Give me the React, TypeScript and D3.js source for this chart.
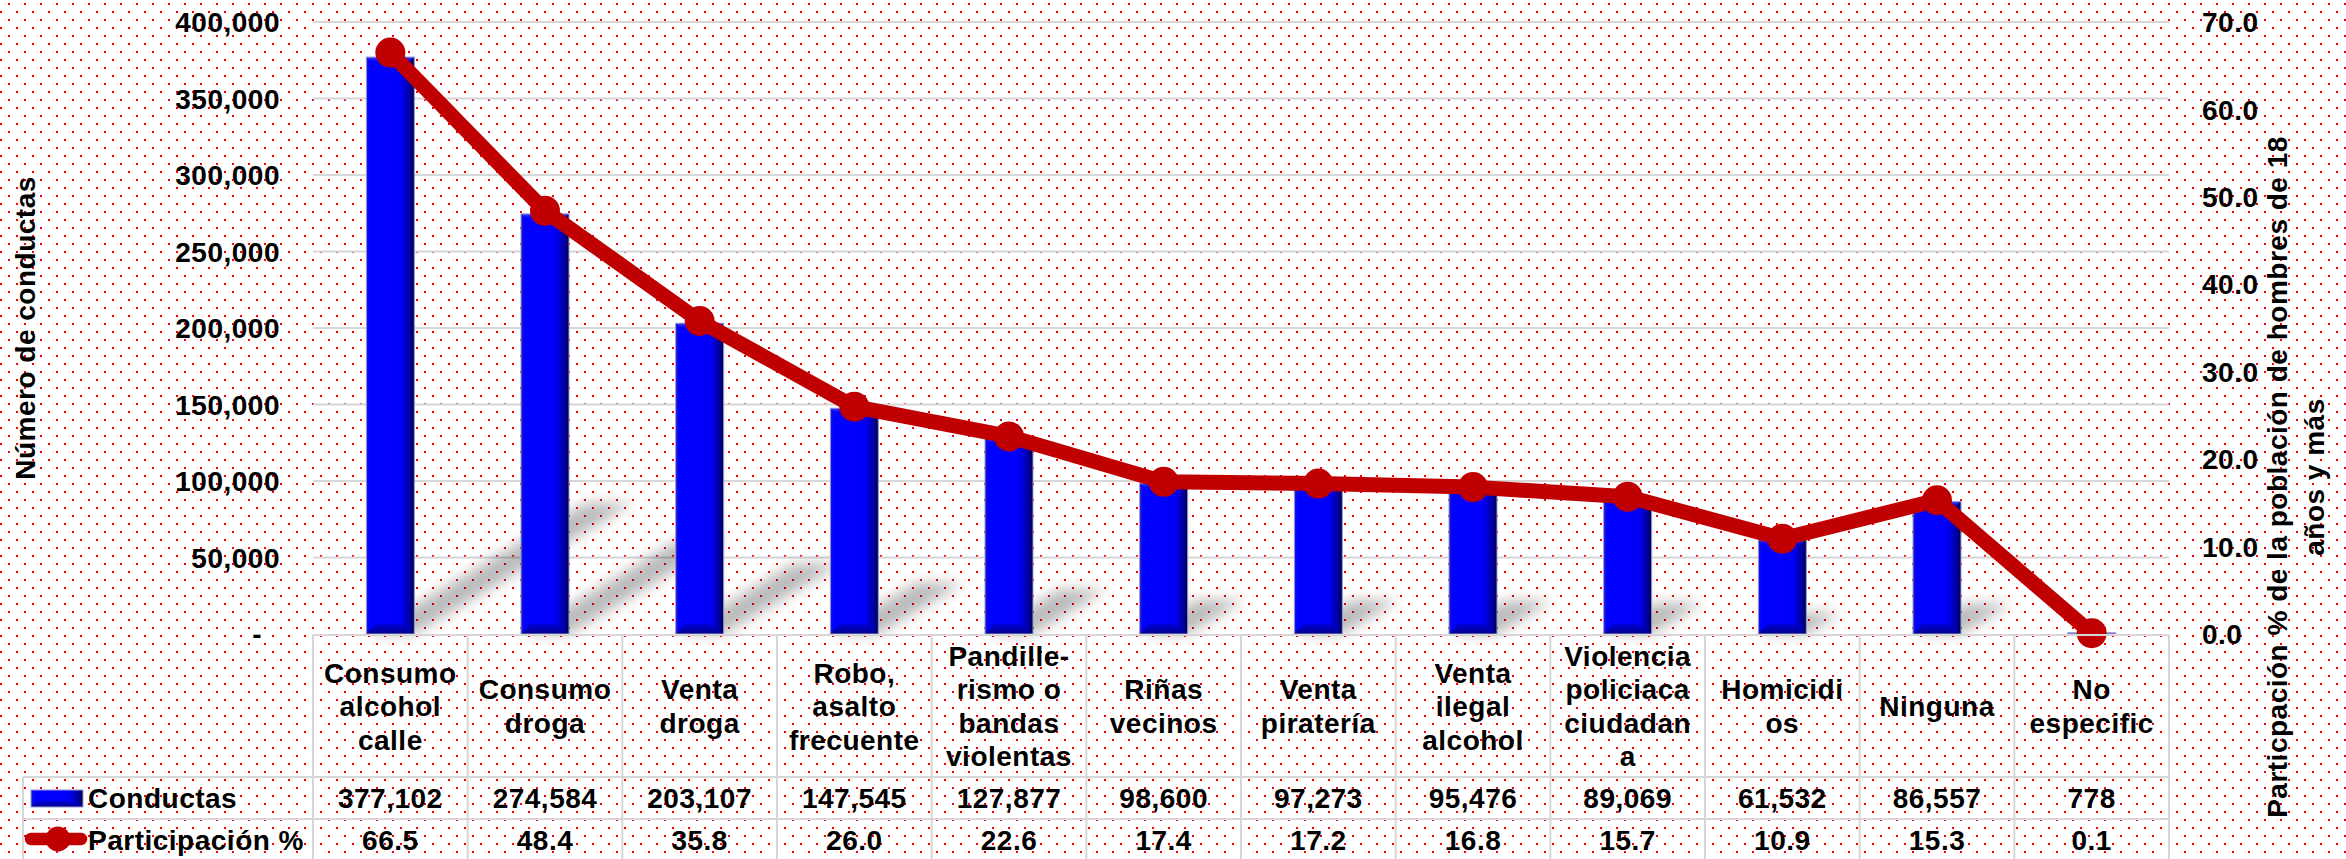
import React from "react";
import * as d3 from "d3";

// ---- data ----
const categories: string[] = [
  "Consumo\nalcohol\ncalle",
  "Consumo\ndroga",
  "Venta\ndroga",
  "Robo,\nasalto\nfrecuente",
  "Pandille-\nrismo o\nbandas\nviolentas",
  "Riñas\nvecinos",
  "Venta\npiratería",
  "Venta\nilegal\nalcohol",
  "Violencia\npoliciaca\nciudadan\na",
  "Homicidi\nos",
  "Ninguna",
  "No\nespecific",
];
const conductas: number[] = [377102, 274584, 203107, 147545, 127877, 98600, 97273, 95476, 89069, 61532, 86557, 778];
const participacion: number[] = [66.5, 48.4, 35.8, 26.0, 22.6, 17.4, 17.2, 16.8, 15.7, 10.9, 15.3, 0.1];
const leftTicks: number[] = [0, 50000, 100000, 150000, 200000, 250000, 300000, 350000, 400000];
const rightTicks: number[] = [0, 10, 20, 30, 40, 50, 60, 70];
const seriesNames: string[] = ["Conductas", "Participación %"];
const leftTitle = "Número de conductas";
const rightTitleLines: string[] = ["Particpación % de la población de hombres de 18", "años y más"];

const W = 2346;
const H = 859;
const FONT = "'Liberation Sans', Arial, Helvetica, sans-serif";

export default function App() {
  const plotLeft = 313;
  const plotRight = 2169;
  const plotTop = 22;
  const plotBottom = 634;
  const tableTop = 635;
  const headerBottom = 777;
  const row1Bottom = 819;
  const row2Bottom = 861;
  const legendLeft = 23;

  const x = d3.scaleBand<string>().domain(categories).range([plotLeft, plotRight]).padding(0);
  const yL = d3.scaleLinear().domain([0, 400000]).range([plotBottom, plotTop]);
  const yR = d3.scaleLinear().domain([0, 70]).range([plotBottom, plotTop]);
  const fmtL = d3.format(",");
  const fmtR = d3.format(".1f");
  const bw = 48;
  const cx = (c: string) => (x(c) as number) + x.bandwidth() / 2;

  const lineGen = d3
    .line<number>()
    .x((_, i) => cx(categories[i]))
    .y((d) => yR(d));

  const shadowK = 0.227;
  const shadowS = 0.38;
  const lh = 33.5;
  const headerCenter = (tableTop + headerBottom) / 2;
  const row1Center = (headerBottom + row1Bottom) / 2;
  const row2Center = (row1Bottom + row2Bottom) / 2;

  const textStyle = {
    fontFamily: FONT,
    fontWeight: 700,
    fontSize: 28,
    fill: "#000",
    letterSpacing: "0.5px",
  } as React.CSSProperties;
  const gridColor = "#d6d6d6";

  return (
    <svg
      width={W}
      height={H}
      viewBox={`0 0 ${W} ${H}`}
      style={{ position: "absolute", left: 0, top: 0, display: "block" }}
    >
      <defs>
        <pattern id="dots" width={16} height={16} patternUnits="userSpaceOnUse">
          <rect x={8} y={3} width={2} height={2} fill="#ff0000" />
          <rect x={0} y={11} width={2} height={2} fill="#ff0000" />
        </pattern>
        <filter id="shblur" x="-50%" y="-50%" width="200%" height="200%">
          <feGaussianBlur stdDeviation={7} />
        </filter>
        <linearGradient id="barH" x1="0" x2="1" y1="0" y2="0">
          <stop offset="0%" stopColor="#1a1ad0" />
          <stop offset="7%" stopColor="#0000ff" />
          <stop offset="72%" stopColor="#0000f8" />
          <stop offset="88%" stopColor="#0000b0" />
          <stop offset="100%" stopColor="#000050" />
        </linearGradient>
        <linearGradient id="barBottom" x1="0" x2="0" y1="0" y2="1">
          <stop offset="0%" stopColor="#0000d8" />
          <stop offset="100%" stopColor="#00008a" />
        </linearGradient>
        <linearGradient id="barTop" x1="0" x2="0" y1="0" y2="1">
          <stop offset="0%" stopColor="#5050ff" />
          <stop offset="100%" stopColor="#0000ff" />
        </linearGradient>
      </defs>

      {/* background */}
      <rect x={0} y={0} width={W} height={H} fill="#ffffff" />
      <rect x={0} y={0} width={W} height={H} fill="url(#dots)" />

      {/* gridlines */}
      {leftTicks.map((t) =>
        t === 0 ? null : (
          <line key={"g" + t} x1={plotLeft} x2={plotRight} y1={yL(t)} y2={yL(t)} stroke={gridColor} strokeWidth={2} />
        )
      )}

      {/* perspective shadows of bars */}
      <g filter="url(#shblur)" opacity={0.27}>
        {conductas.map((v, i) => {
          const c = categories[i];
          const x0 = cx(c) - bw / 2;
          const x1 = cx(c) + bw / 2;
          const h = plotBottom - yL(v);
          const dx = h * shadowS;
          const dy = h * shadowK;
          const pts = [
            [x0, plotBottom],
            [x1, plotBottom],
            [x1 + dx, plotBottom - dy],
            [x0 + dx, plotBottom - dy],
          ]
            .map((p) => p.join(","))
            .join(" ");
          return <polygon key={"s" + i} points={pts} fill="#000" />;
        })}
      </g>

      {/* bars */}
      {conductas.map((v, i) => {
        const c = categories[i];
        const x0 = cx(c) - bw / 2;
        const y0 = yL(v);
        const h = plotBottom - y0;
        const bev = Math.min(10, h / 2);
        return (
          <g key={"b" + i}>
            <rect x={x0} y={y0} width={bw} height={h} fill="url(#barH)" />
            <polygon
              points={`${x0},${y0} ${x0 + bw},${y0} ${x0 + bw - 5},${y0 + Math.min(4, h / 2)} ${x0 + 5},${y0 + Math.min(4, h / 2)}`}
              fill="url(#barTop)"
              opacity={0.8}
            />
            <polygon
              points={`${x0},${plotBottom} ${x0 + bw},${plotBottom} ${x0 + bw - bev},${plotBottom - bev} ${x0 + bev},${plotBottom - bev}`}
              fill="url(#barBottom)"
            />
            <rect x={x0} y={y0} width={bw} height={h} fill="none" stroke="#9a9ad0" strokeWidth={1} />
          </g>
        );
      })}

      {/* line series */}
      <path d={lineGen(participacion) || ""} fill="none" stroke="#c00000" strokeWidth={15} strokeLinejoin="round" />
      {participacion.map((v, i) => (
        <circle key={"m" + i} cx={cx(categories[i])} cy={yR(v)} r={15} fill="#c00000" />
      ))}

      {/* left axis labels */}
      {leftTicks.map((t) => (
        <text
          key={"l" + t}
          x={t === 0 ? 262 : 280}
          y={yL(t)}
          dy="0.36em"
          textAnchor="end"
          style={textStyle}
        >
          {t === 0 ? "-" : fmtL(t)}
        </text>
      ))}

      {/* right axis labels */}
      {rightTicks.map((t) => (
        <text key={"r" + t} x={2202} y={yR(t)} dy="0.36em" textAnchor="start" style={textStyle}>
          {fmtR(t)}
        </text>
      ))}

      {/* axis titles */}
      <text
        transform={`translate(25,${(plotTop + plotBottom) / 2}) rotate(-90)`}
        textAnchor="middle"
        dy="0.36em"
        style={textStyle}
      >
        {leftTitle}
      </text>
      {rightTitleLines.map((t, i) => (
        <text
          key={"rt" + i}
          transform={`translate(${2277 + i * 37},477) rotate(-90)`}
          textAnchor="middle"
          dy="0.36em"
          style={textStyle}
        >
          {t}
        </text>
      ))}

      {/* data table */}
      <g stroke={gridColor} strokeWidth={2}>
        <line x1={plotLeft} x2={plotRight} y1={tableTop} y2={tableTop} />
        <line x1={legendLeft} x2={plotRight} y1={headerBottom} y2={headerBottom} />
        <line x1={legendLeft} x2={plotRight} y1={row1Bottom} y2={row1Bottom} />
        <line x1={legendLeft} x2={plotRight} y1={row2Bottom - 1} y2={row2Bottom - 1} />
        <line x1={legendLeft} x2={legendLeft} y1={headerBottom} y2={row2Bottom} />
        {categories.map((c) => (
          <line key={"v" + c} x1={x(c) as number} x2={x(c) as number} y1={tableTop} y2={row2Bottom} />
        ))}
        <line x1={plotRight} x2={plotRight} y1={tableTop} y2={row2Bottom} />
      </g>

      {categories.map((c) => {
        const lines = c.split("\n");
        const n = lines.length;
        return (
          <text key={"h" + c} textAnchor="middle" style={textStyle}>
            {lines.map((ln, j) => (
              <tspan key={j} x={cx(c)} y={headerCenter + (j - (n - 1) / 2) * lh + 10}>
                {ln}
              </tspan>
            ))}
          </text>
        );
      })}

      {conductas.map((v, i) => (
        <text key={"cv" + i} x={cx(categories[i])} y={row1Center + 10} textAnchor="middle" style={textStyle}>
          {fmtL(v)}
        </text>
      ))}
      {participacion.map((v, i) => (
        <text key={"pv" + i} x={cx(categories[i])} y={row2Center + 10} textAnchor="middle" style={textStyle}>
          {fmtR(v)}
        </text>
      ))}

      {/* legend keys */}
      <g>
        <rect x={31} y={790} width={52} height={17} fill="url(#barH)" />
        <polygon points={`31,807 83,807 77,801 37,801`} fill="url(#barBottom)" />
        <rect x={31} y={790} width={52} height={17} fill="none" stroke="#9a9ad0" strokeWidth={1} />
        <text x={88} y={row1Center + 10} style={textStyle}>
          {seriesNames[0]}
        </text>
        <line x1={31} x2={81} y1={row2Center - 1} y2={row2Center - 1} stroke="#c00000" strokeWidth={12.5} strokeLinecap="round" />
        <circle cx={58} cy={row2Center - 1} r={12.5} fill="#c00000" />
        <text x={88} y={row2Center + 10} style={textStyle}>
          {seriesNames[1]}
        </text>
      </g>
    </svg>
  );
}
